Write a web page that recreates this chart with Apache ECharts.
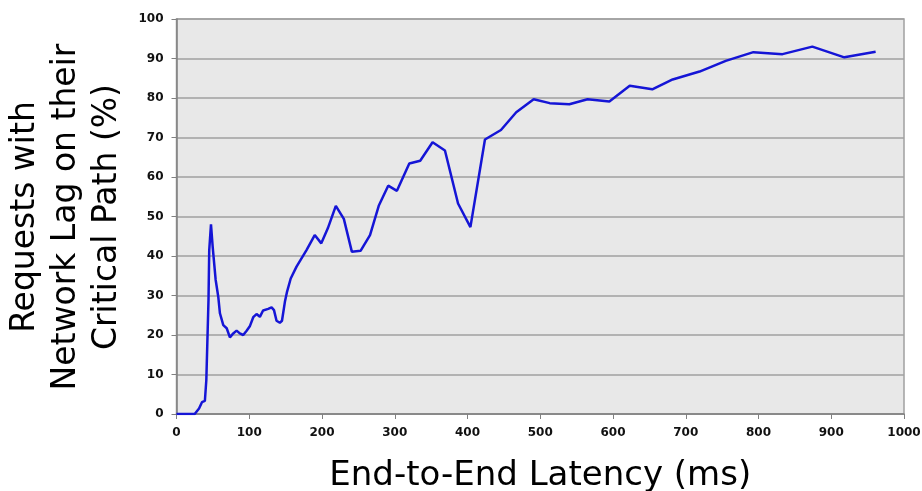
<!DOCTYPE html>
<html>
<head>
<meta charset="utf-8">
<script src="https://cdn.jsdelivr.net/npm/echarts@6/dist/echarts.min.js"></script>
<style>
  html, body { margin: 0; padding: 0; background: #fff; }
  #chart { width: 922px; height: 491px; }
</style>
</head>
<body>
<div id="chart"></div>
<script>
// latency (ms) and share of requests (%)
var latency = [0, 25, 31, 35, 39, 41, 44, 45, 47.4, 49.7, 53.8, 57.4, 59.7, 64.3, 69, 73.4, 78, 82.6, 87, 91.7,
  96.4, 101, 105.5, 110, 114.6, 119, 126, 130.7, 134, 137.5, 142, 145, 149, 152, 157, 165, 178.7, 190, 199, 208,
  219, 230, 241, 253, 266, 278, 291, 303, 320, 335, 352, 369, 387, 404, 424, 446, 467, 491, 513, 540,
  565, 595, 623, 654, 682, 719, 755, 793, 833, 874, 918, 961]
var percent = [0, 0, 1.4, 3, 3.3, 8.6, 29, 41.5, 48, 42.4, 34, 29.7, 25.5, 22.5, 21.7, 19.4, 20.4, 21.1, 20.4, 20,
  21.1, 22.3, 24.5, 25.3, 24.6, 26.2, 26.6, 27, 26.3, 23.6, 23.1, 23.6, 28.4, 31, 34.3, 37.3, 41.5, 45.3, 43.2, 47,
  52.7, 49.4, 41.1, 41.3, 45.3, 52.7, 57.8, 56.5, 63.4, 64.1, 68.8, 66.7, 53.3, 47.3, 69.5, 71.9, 76.4, 79.7, 78.7, 78.4,
  79.7, 79.1, 83.1, 82.2, 84.7, 86.7, 89.4, 91.6, 91.1, 93, 90.3, 91.7]
var xTitle = 'End-to-End Latency (ms)'
var yTitle = ['Requests with', 'Network Lag on their', 'Critical Path (%)']

var chart = echarts.init(document.getElementById('chart'))
var points = latency.map(function (v, i) { return [v, percent[i]] })
var option = {
  animation: false,
  grid: {
    left: 176.5,
    right: 18,
    top: 19,
    bottom: 77,
    outerBoundsMode: 'none',
    show: true,
    backgroundColor: '#e8e8e8',
    borderColor: '#a0a0a0',
    borderWidth: 1.5
  },
  xAxis: {
    type: 'value',
    min: 0,
    max: 1000,
    interval: 100,
    name: xTitle,
    nameLocation: 'middle',
    nameGap: 45,
    nameTextStyle: { fontFamily: 'DejaVu Sans', fontSize: 34, color: '#000' },
    axisLine: { show: true, lineStyle: { color: '#808080', width: 1.5 } },
    axisTick: { show: true, length: 5, lineStyle: { color: '#808080' } },
    axisLabel: {
      margin: 13,
      fontFamily: 'DejaVu Sans',
      fontWeight: 'bold',
      fontSize: 12,
      color: '#111',
      formatter: function (v) { return String(v) }
    },
    splitLine: { show: false }
  },
  yAxis: {
    type: 'value',
    min: 0,
    max: 100,
    interval: 10,
    axisLine: { show: true, lineStyle: { color: '#808080', width: 1.5 } },
    axisTick: { show: true, length: 5, lineStyle: { color: '#808080' } },
    axisLabel: { margin: 13, fontFamily: 'DejaVu Sans', fontWeight: 'bold', fontSize: 12, color: '#111' },
    splitLine: { show: true, lineStyle: { color: '#a0a0a0', width: 1.5 } }
  },
  graphic: [
    {
      type: 'text',
      x: 4.5,
      y: 217,
      rotation: Math.PI / 2,
      style: {
        text: yTitle.join('\n'),
        fontFamily: 'DejaVu Sans',
        fontSize: 33,
        lineHeight: 41,
        fill: '#000',
        align: 'center',
        verticalAlign: 'top'
      }
    }
  ],
  series: [
    {
      type: 'line',
      data: points,
      showSymbol: false,
      smooth: false,
      lineStyle: { color: '#1515d6', width: 2.5 }
    }
  ]
}
chart.setOption(option)
</script>
</body>
</html>
